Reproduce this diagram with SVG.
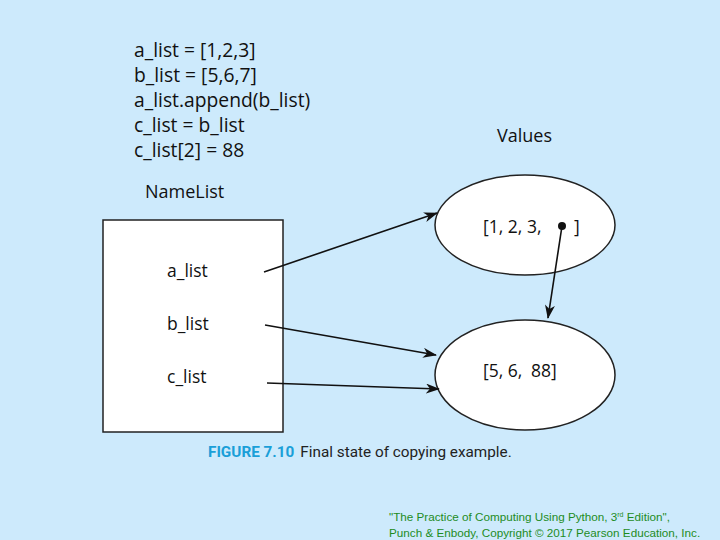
<svg xmlns="http://www.w3.org/2000/svg" width="720" height="540" viewBox="0 0 720 540">
<defs>
<style>
.code{font-family:"Open Sans","Liberation Sans",sans-serif;font-size:19.3px;fill:#111}
.head{font-family:"Open Sans","Liberation Sans",sans-serif;font-size:18px;fill:#111}
.lbl{font-family:"Open Sans","Liberation Sans",sans-serif;font-size:17.5px;fill:#111}
.shape{fill:#fff;stroke:#222;stroke-width:1.5}
.conn{stroke:#111;stroke-width:1.6;fill:none;marker-end:url(#ah)}
.cap{font-family:"Roboto","Liberation Sans",sans-serif;font-size:15.3px}
.credit{font-family:"Liberation Sans",Arial,sans-serif;font-size:11.7px;fill:#1e8c1e}
</style>
<marker id="ah" viewBox="0 0 14 10" refX="13" refY="5" markerWidth="14" markerHeight="10" markerUnits="userSpaceOnUse" orient="auto">
<path d="M0,0 L14,5 L0,10 L4,5 Z" fill="#111"/>
</marker>
</defs>
<rect width="720" height="540" fill="#cdeafc"/>
<g id="code">
<text class="code" x="134" y="57">a_list = [1,2,3]</text>
<text class="code" x="134" y="82">b_list = [5,6,7]</text>
<text class="code" x="134" y="107">a_list.append(b_list)</text>
<text class="code" x="134" y="132">c_list = b_list</text>
<text class="code" x="134" y="157">c_list[2] = 88</text>
</g>
<g id="namelist">
<text class="head" x="145" y="198">NameList</text>
<rect class="shape" x="103" y="220" width="180" height="212"/>
<text class="lbl" x="167" y="277">a_list</text>
<text class="lbl" x="167" y="330">b_list</text>
<text class="lbl" x="167" y="383">c_list</text>
</g>
<g id="values">
<text class="head" x="497" y="142">Values</text>
</g>
<g id="list1">
<ellipse class="shape" cx="525" cy="225" rx="90" ry="50"/>
<text class="lbl" x="483" y="233">[1, 2, 3,</text>
<text class="lbl" x="574" y="233">]</text>
<circle cx="562" cy="226" r="4" fill="#111"/>
</g>
<g id="list2">
<ellipse class="shape" cx="525" cy="375" rx="90" ry="55"/>
<text class="lbl" x="483" y="377">[5, 6,<tspan x="531">88]</tspan></text>
</g>
<g id="connectors">
<line class="conn" x1="264" y1="272" x2="437" y2="213"/>
<line class="conn" x1="265" y1="325" x2="436" y2="355"/>
<line class="conn" x1="267" y1="383" x2="439" y2="389"/>
<line class="conn" x1="562" y1="226" x2="548" y2="318"/>
</g>
<g id="caption">
<text class="cap" x="208" y="457"><tspan fill="#1a9fd8" font-weight="bold">FIGURE 7.10</tspan><tspan fill="#222" dx="6">Final state of copying example.</tspan></text>
<text class="credit" x="389" y="521">"The Practice of Computing Using Python, 3<tspan font-size="7" dy="-4">rd</tspan><tspan dy="4"> Edition",</tspan></text>
<text class="credit" x="389" y="537">Punch &amp; Enbody, Copyright © 2017 Pearson Education, Inc.</text>
</g>
</svg>
